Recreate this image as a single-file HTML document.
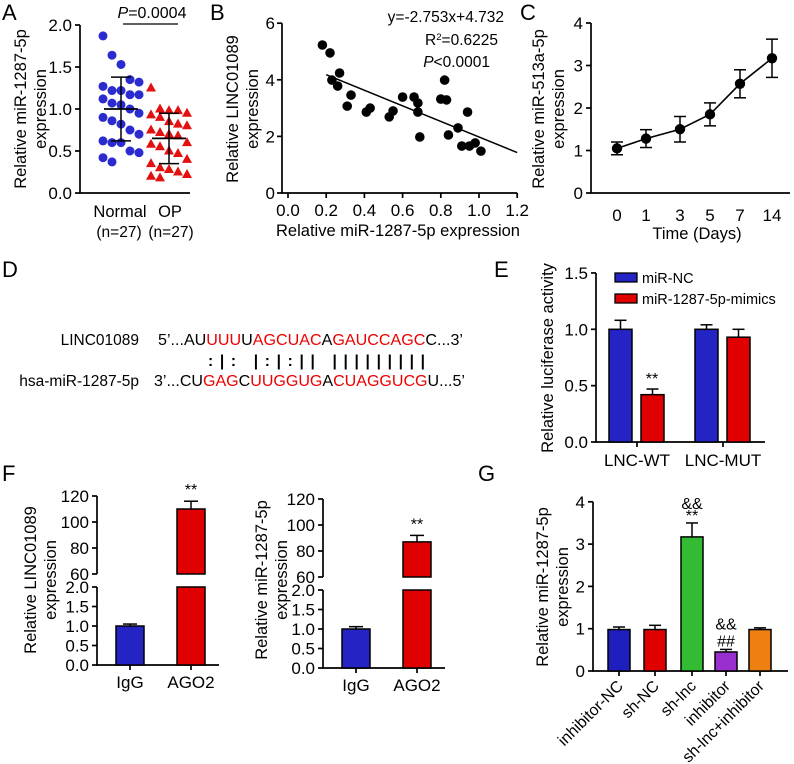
<!DOCTYPE html>
<html><head><meta charset="utf-8"><style>
body{margin:0;background:#fff}
svg{display:block;font-family:"Liberation Sans",Arial,sans-serif}
</style></head><body>
<svg id="fig" width="794" height="764" viewBox="0 0 794 764" xmlns="http://www.w3.org/2000/svg">
<g font-size="22" fill="#000">
<text x="2" y="20">A</text>
<text x="210" y="20">B</text>
<text x="520" y="20">C</text>
<text x="2" y="277">D</text>
<text x="494" y="277">E</text>
<text x="2" y="481">F</text>
<text x="478" y="481">G</text>
</g>
<g font-size="15.5">
<text x="139" y="345" text-anchor="end">LINC01089</text>
<text x="158" y="345" xml:space="preserve" textLength="305" lengthAdjust="spacingAndGlyphs">5’...AU<tspan fill="#e00">UUU</tspan>U<tspan fill="#e00">AGCUAC</tspan>A<tspan fill="#e00">GAUCCAGC</tspan>C...3’</text>
<text x="139" y="386" text-anchor="end">hsa-miR-1287-5p</text>
<text x="154" y="386" xml:space="preserve" textLength="311" lengthAdjust="spacingAndGlyphs">3’...CU<tspan fill="#e00">GAG</tspan>C<tspan fill="#e00">UUGGUG</tspan>A<tspan fill="#e00">CUAGGUCG</tspan>U...5’</text>
<text x="208" y="366" xml:space="preserve" font-weight="bold" textLength="217" lengthAdjust="spacing">: | :   | : | : | |   | | | | | | | | |</text>
</g>
</svg>
<script>
// ---------- data ----------
const aNormal=[1.87,1.64,1.53,1.35,1.32,1.27,1.22,1.22,1.17,1.17,1.12,1.07,1.05,1.0,0.95,0.9,0.86,0.82,0.75,0.7,0.62,0.6,0.6,0.5,0.48,0.42,0.37];
const aOP=[1.25,1.0,0.98,0.98,0.95,0.93,0.9,0.85,0.82,0.8,0.75,0.72,0.7,0.68,0.6,0.58,0.55,0.5,0.47,0.4,0.35,0.3,0.28,0.25,0.22,0.2,0.18];
const aMeans=[1.0,0.65];
const aSD=[0.38,0.3];
const aTicks=[0,0.5,1.0,1.5,2.0];
const bX=[0.18,0.22,0.23,0.27,0.26,0.33,0.31,0.41,0.43,0.53,0.55,0.60,0.66,0.68,0.68,0.69,0.80,0.83,0.82,0.84,0.89,0.94,0.91,0.95,0.98,1.01];
const bY=[5.23,4.95,3.99,4.24,3.78,3.46,3.07,2.86,3.0,2.69,2.9,3.39,3.39,3.18,2.86,1.98,3.32,3.29,3.99,2.05,2.30,2.86,1.66,1.66,1.77,1.48];
const bSlope=-2.753, bIntercept=4.732;
const bXTicks=[0,0.2,0.4,0.6,0.8,1.0,1.2];
const bYTicks=[0,2,4,6];
const cCats=["0","1","3","5","7","14"];
const cMean=[1.05,1.28,1.5,1.85,2.57,3.17];
const cErr=[0.15,0.21,0.3,0.27,0.33,0.45];
const cTicks=[0,1,2,3,4];
const eCats=["LNC-WT","LNC-MUT"];
const eNC=[1.0,1.0];
const eNCerr=[0.08,0.04];
const eMim=[0.42,0.93];
const eMimErr=[0.05,0.07];
const eTicks=[0,0.5,1.0,1.5];
const fCats=["IgG","AGO2"];
const f1Vals=[1.0,110];
const f1Err=[0.05,6];
const f2Vals=[1.0,87];
const f2Err=[0.06,5];
const fLowTicks=[0,0.5,1.0,1.5,2.0];
const fHighTicks=[60,80,100,120];
const gCats=["inhibitor-NC","sh-NC","sh-lnc","inhibitor","sh-lnc+inhibitor"];
const gVals=[0.98,0.98,3.17,0.45,0.98];
const gErr=[0.06,0.1,0.33,0.06,0.04];
const gTicks=[0,1,2,3,4];

const TK=17, LB=16.5;
const svg=document.getElementById('fig');
const NS='http://www.w3.org/2000/svg';
function el(tag,attrs,parent){const e=document.createElementNS(NS,tag);for(const k in attrs)e.setAttribute(k,attrs[k]);(parent||svg).appendChild(e);return e;}
function txt(x,y,s,size,anchor,parent,rot){const t=el('text',{x:x,y:y,'font-size':size,'text-anchor':anchor||'middle'},parent);if(rot!==undefined)t.setAttribute('transform','rotate('+rot+' '+x+' '+y+')');t.textContent=s;return t;}
function line(x1,y1,x2,y2,parent,w){return el('line',{x1:x1,y1:y1,x2:x2,y2:y2,stroke:'#000','stroke-width':w||1.7},parent);}
function fmt(v,d){return v.toFixed(d);}

// ---------- Panel A ----------
(function(){
const g=el('g',{});


const y=v=>193-v*84;
line(80,y(2),80,193,g);line(79,193,190,193,g);
aTicks.forEach(t=>{line(75,y(t),80,y(t),g);txt(72,y(t)+6,fmt(t,1),TK,'end',g);});
const cx=[121,169];
[aNormal,aOP].forEach((arr,gi)=>{
 const sorted=arr.slice().sort((a,b)=>b-a);
 sorted.forEach((v,i)=>{
  const off=((i%5)-2)*9;
  const px=cx[gi]+off, py=y(v);
  let m;
  if(gi===0){m=el('circle',{cx:px,cy:py,r:4.5,fill:'#2b2bd0'},g);}
  else{m=el('polygon',{points:(px)+','+(py-5.5)+' '+(px-5)+','+(py+3.5)+' '+(px+5)+','+(py+3.5),fill:'#e31010'},g);}
  
  
 });
 const mu=aMeans[gi],sd=aSD[gi];
 line(cx[gi]-17,y(mu),cx[gi]+17,y(mu),g,1.8);
 line(cx[gi],y(mu+sd),cx[gi],y(mu-sd),g,1.5);
 line(cx[gi]-10,y(mu+sd),cx[gi]+10,y(mu+sd),g,1.5);
 line(cx[gi]-10,y(mu-sd),cx[gi]+10,y(mu-sd),g,1.5);
});
line(123,24,178,24,g,1.3);
const p=txt(152,18,'',16,'middle',g);p.innerHTML='<tspan font-style="italic">P</tspan>=0.0004';
txt(120,217,'Normal',LB,'middle',g);txt(170,217,'OP',LB,'middle',g);
txt(119,237,'(n=27)',15.5,'middle',g);txt(171,237,'(n=27)',15.5,'middle',g);
txt(26,109,'Relative miR-1287-5p',LB,'middle',g,-90);
txt(46,109,'expression',LB,'middle',g,-90);
})();

// ---------- Panel B ----------
(function(){
const g=el('g',{});


const x=v=>288+v*191, y=v=>193-v*28.3;
line(282,y(6),282,193,g);line(281,193,x(1.2),193,g);
bYTicks.forEach(t=>{line(277,y(t),282,y(t),g);txt(275,y(t)+6,String(t),TK,'end',g);});
bXTicks.forEach(t=>{line(x(t),193,x(t),198,g);txt(x(t),216,fmt(t,1),TK,'middle',g);});
bX.forEach((v,i)=>{const c=el('circle',{cx:x(v),cy:y(bY[i]),r:4.8,fill:'#000'},g);
 
 });
const rl=line(x(0.2),y(bSlope*0.2+bIntercept),x(1.2),y(bSlope*1.2+bIntercept),g,1.5);


txt(504,22,'y=-2.753x+4.732',15.5,'end',g);
const r=txt(498,45,'',15.5,'end',g);r.innerHTML='R<tspan font-size="9.5" dy="-5">2</tspan><tspan dy="5">=0.6225</tspan>';
const p=txt(490,67,'',15.5,'end',g);p.innerHTML='<tspan font-style="italic">P</tspan>&lt;0.0001';
txt(398,236,'Relative miR-1287-5p expression',LB,'middle',g);
txt(238,109,'Relative LINC01089',LB,'middle',g,-90);
txt(258,109,'expression',LB,'middle',g,-90);
})();

// ---------- Panel C ----------
(function(){
const g=el('g',{});


const y=v=>193-v*42.5;
const xs=[617,646,680,710,740,772];
line(591,y(4),591,193,g);line(590,193,790,193,g);
cTicks.forEach(t=>{line(586,y(t),591,y(t),g);txt(583,y(t)+6,String(t),TK,'end',g);});
let pts=cMean.map((v,i)=>xs[i]+','+y(v)).join(' ');
const pl=el('polyline',{points:pts,fill:'none',stroke:'#000','stroke-width':1.6},g);


cMean.forEach((v,i)=>{
 line(xs[i],y(v+cErr[i]),xs[i],y(v-cErr[i]),g,1.5);
 line(xs[i]-6,y(v+cErr[i]),xs[i]+6,y(v+cErr[i]),g,1.5);
 line(xs[i]-6,y(v-cErr[i]),xs[i]+6,y(v-cErr[i]),g,1.5);
 const c=el('circle',{cx:xs[i],cy:y(v),r:5.2,fill:'#000'},g);
 
 
 txt(xs[i],221,cCats[i],TK,'middle',g);
});
txt(697,239,'Time (Days)',LB,'middle',g);
txt(544,109,'Relative miR-513a-5p',LB,'middle',g,-90);
txt(564,109,'expression',LB,'middle',g,-90);
})();

function errBar(g,cx,top,errTop,w){line(cx,errTop,cx,top,g,1.5);line(cx-w,errTop,cx+w,errTop,g,1.5);}

// ---------- Panel E ----------
(function(){
const g=el('g',{});


const y=v=>442-v*112.7;
line(596,y(1.5),596,442,g);line(595,442,765,442,g);
eTicks.forEach(t=>{line(591,y(t),596,y(t),g);txt(588,y(t)+6,fmt(t,1),TK,'end',g);});
const centers=[637,723];
eCats.forEach((c,i)=>{
 const bx=centers[i];
 const b1=el('rect',{x:bx-28,y:y(eNC[i]),width:23,height:442-y(eNC[i]),fill:'#2424c4',stroke:'#000','stroke-width':1.5},g);
 
 
 errBar(g,bx-16.5,y(eNC[i]),y(eNC[i]+eNCerr[i]),6);
 const b2=el('rect',{x:bx+4,y:y(eMim[i]),width:23,height:442-y(eMim[i]),fill:'#e00000',stroke:'#000','stroke-width':1.5},g);
 
 
 errBar(g,bx+15.5,y(eMim[i]),y(eMim[i]+eMimErr[i]),6);
 line(bx,442,bx,447,g);
 txt(bx,466,c,TK,'middle',g);
});
txt(652,y(eMim[0]+eMimErr[0])-5,'**',16,'middle',g);
const l1=el('rect',{x:615,y:273,width:22,height:9,fill:'#2424c4',stroke:'#000','stroke-width':1.3},g);


txt(642,283,'miR-NC',14.5,'start',g);
const l2=el('rect',{x:615,y:294,width:22,height:9,fill:'#e00000',stroke:'#000','stroke-width':1.3},g);


txt(642,304,'miR-1287-5p-mimics',14.5,'start',g);
txt(553,358,'Relative  luciferase activity',LB,'middle',g,-90);
})();

// ---------- Panel F ----------
function fPanel(ax,lowZero,hiTop,vals,errs,labX1,labX2,lab1,name){
 const g=el('g',{});
 
 
 const yl=v=>lowZero-v*39;
 const hiBase=hiTop+78;
 const yh=v=>hiBase-(v-60)*1.3;
 line(ax,yl(2),ax,lowZero,g);line(ax,yh(120),ax,hiBase,g);
 line(ax-1,lowZero,ax+122,lowZero,g);
 fLowTicks.forEach(t=>{line(ax-5,yl(t),ax,yl(t),g);txt(ax-8,yl(t)+6,fmt(t,1),TK,'end',g);});
 fHighTicks.forEach(t=>{line(ax-5,yh(t),ax,yh(t),g);txt(ax-8,yh(t)+6,String(t),TK,'end',g);});
 const cs=[ax+33,ax+94];
 const b1=el('rect',{x:cs[0]-14,y:yl(vals[0]),width:28,height:lowZero-yl(vals[0]),fill:'#2424c4',stroke:'#000','stroke-width':1.5},g);
 
 
 errBar(g,cs[0],yl(vals[0]),yl(vals[0]+errs[0]),7);
 const b2a=el('rect',{x:cs[1]-14,y:yl(2),width:28,height:lowZero-yl(2),fill:'#e00000',stroke:'#000','stroke-width':1.5},g);
 
 
 const b2b=el('rect',{x:cs[1]-14,y:yh(vals[1]),width:28,height:hiBase-yh(vals[1]),fill:'#e00000',stroke:'#000','stroke-width':1.5},g);
 
 
 errBar(g,cs[1],yh(vals[1]),yh(vals[1]+errs[1]),7);
 txt(cs[1],yh(vals[1]+errs[1])-6,'**',16,'middle',g);
 fCats.forEach((c,i)=>{line(cs[i],lowZero,cs[i],lowZero+5,g);txt(cs[i],lowZero+23,c,TK,'middle',g);});
 txt(labX1,580,lab1,LB,'middle',g,-90);
 txt(labX2,580,'expression',LB,'middle',g,-90);
}
fPanel(97,665,496,f1Vals,f1Err,36,56,'Relative LINC01089','panel-f-linc01089');
fPanel(323,668,499,f2Vals,f2Err,267,287,'Relative miR-1287-5p','panel-f-mir1287');

// ---------- Panel G ----------
(function(){
const g=el('g',{});


const y=v=>671-v*42.3;
const colors=['#1f1fc0','#e00000','#33bb33','#9a2fd0','#ee8011'];
const cs=[619,655,692,726,760];
line(593,y(4),593,671,g);line(592,671,788,671,g);
gTicks.forEach(t=>{line(588,y(t),593,y(t),g);txt(585,y(t)+6,String(t),TK,'end',g);});
gCats.forEach((c,i)=>{
 const r=el('rect',{x:cs[i]-11,y:y(gVals[i]),width:22,height:671-y(gVals[i]),fill:colors[i],stroke:'#000','stroke-width':1.5},g);
 
 
 errBar(g,cs[i],y(gVals[i]),y(gVals[i]+gErr[i]),6);
 line(cs[i],671,cs[i],676,g);
 txt(cs[i]+5,687,c,16,'end',g,-45);
});
const t2=y(gVals[2]+gErr[2]);
txt(cs[2],t2-2,'**',16,'middle',g);txt(cs[2],t2-14,'&&',16,'middle',g);
const t3=y(gVals[3]+gErr[3]);
txt(cs[3],t3-3,'##',16,'middle',g);txt(cs[3],t3-20,'&&',16,'middle',g);
txt(548,587,'Relative miR-1287-5p',LB,'middle',g,-90);
txt(568,587,'expression',LB,'middle',g,-90);
})();
</script>
</body></html>
